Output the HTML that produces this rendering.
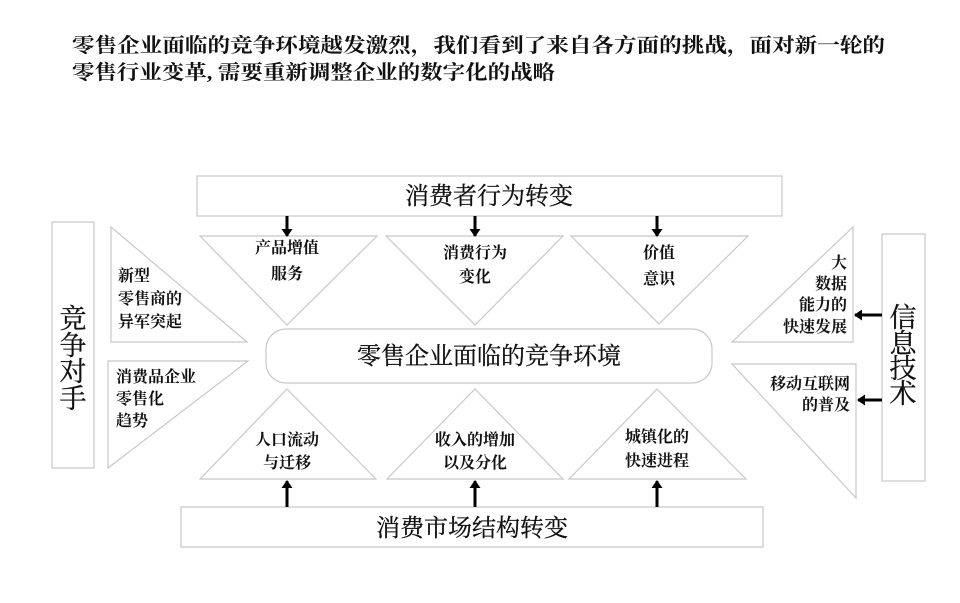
<!DOCTYPE html>
<html><head><meta charset="utf-8"><style>
html,body{margin:0;padding:0;background:#fff;}
svg{display:block;}
.t{font-family:"Liberation Serif","Noto Serif CJK SC",serif;fill:#111;}
.b{font-weight:bold;font-size:16px;}
</style></head><body>
<svg width="960" height="603" viewBox="0 0 960 603" xmlns="http://www.w3.org/2000/svg">
<defs>
<marker id="ah" markerWidth="8" markerHeight="11" refX="7" refY="5.5" orient="auto" markerUnits="userSpaceOnUse">
<path d="M0,0 L8,5.5 L0,11 Z" fill="#000"/>
</marker>
</defs>
<g class="t" font-weight="bold" font-size="20">
<text x="72" y="52" textLength="813" lengthAdjust="spacingAndGlyphs">零售企业面临的竞争环境越发激烈，我们看到了来自各方面的挑战，面对新一轮的</text>
<text x="72" y="79" textLength="483" lengthAdjust="spacingAndGlyphs">零售行业变革, 需要重新调整企业的数字化的战略</text>
</g>
<g fill="none" stroke="#c8c8c8" stroke-width="1.2">
<rect x="197" y="176" width="585" height="40"/>
<rect x="181" y="507" width="582" height="40"/>
<rect x="52" y="222" width="42" height="246"/>
<rect x="882" y="234" width="43" height="247"/>
<rect x="266" y="329" width="446" height="54" rx="20"/>
<polygon points="200,236 377,236 287,325"/>
<polygon points="386,236 563,236 475,325"/>
<polygon points="571,236 748,236 659,324"/>
<polygon points="287,389 376,479 200,479"/>
<polygon points="475,389 563,479 387,479"/>
<polygon points="657,389 746,479 569,479"/>
<polygon points="111,227 111,342 247,342"/>
<polygon points="108,361 248,361 108,468"/>
<polygon points="853,227 853,342 732,342"/>
<polygon points="732,364 856,364 856,498"/>
</g>
<g stroke="#000" stroke-width="3" marker-end="url(#ah)">
<line x1="287" y1="216" x2="287" y2="236"/>
<line x1="475" y1="216" x2="475" y2="236"/>
<line x1="657" y1="216" x2="657" y2="236"/>
<line x1="287" y1="507" x2="287" y2="481"/>
<line x1="475" y1="507" x2="475" y2="481"/>
<line x1="657" y1="507" x2="657" y2="481"/>
<line x1="882" y1="315" x2="855" y2="315"/>
<line x1="882" y1="400" x2="858" y2="400"/>
</g>
<g class="t" font-size="24" text-anchor="middle" stroke="#111" stroke-width="0.3">
<text x="489" y="204">消费者行为转变</text>
<text x="472" y="536">消费市场结构转变</text>
<text x="489" y="364">零售企业面临的竞争环境</text>
</g>
<g class="t" font-size="27" text-anchor="middle" stroke="#111" stroke-width="0.3">
<text x="73" y="328">竞</text><text x="73" y="355">争</text><text x="73" y="381">对</text><text x="73" y="408">手</text>
<text x="903" y="327">信</text><text x="903" y="353">息</text><text x="903" y="378">技</text><text x="903" y="403">术</text>
</g>
<g class="t b" text-anchor="middle">
<text x="287" y="253">产品增值</text><text x="287" y="279">服务</text>
<text x="475" y="258">消费行为</text><text x="475" y="282">变化</text>
<text x="659" y="258">价值</text><text x="659" y="284">意识</text>
<text x="287" y="445">人口流动</text><text x="287" y="468">与迁移</text>
<text x="475" y="445">收入的增加</text><text x="475" y="468">以及分化</text>
<text x="657" y="442">城镇化的</text><text x="657" y="466">快速进程</text>
</g>
<g class="t b">
<text x="118" y="281">新型</text><text x="118" y="304">零售商的</text><text x="118" y="327">异军突起</text>
<text x="116" y="382">消费品企业</text><text x="116" y="404">零售化</text><text x="116" y="426">趋势</text>
</g>
<g class="t b" text-anchor="end">
<text x="847" y="268">大</text><text x="847" y="289">数据</text><text x="847" y="310">能力的</text><text x="847" y="332">快速发展</text>
<text x="850" y="389">移动互联网</text><text x="850" y="410">的普及</text>
</g>
</svg>
</body></html>
